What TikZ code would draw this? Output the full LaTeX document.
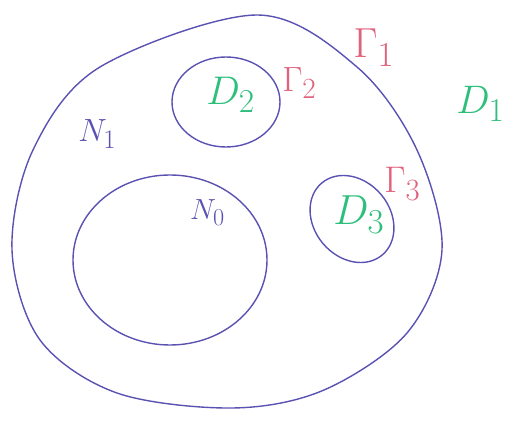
\documentclass[tikz,border=0pt]{standalone}
\usepackage{amsmath,amssymb}
\usepackage{tikz}
\definecolor{PenBlue}{HTML}{5A52B2}
\definecolor{PenGreen}{HTML}{2EBF7C}
\definecolor{PenRed}{HTML}{E0627C}

\begin{document}
\begin{tikzpicture}[
    x=1pt, y=1pt,
    rim/.style={draw=PenBlue, line width=1.4pt},
    lbl/.style={inner sep=0pt, anchor=base west, font=\Huge}
  ]
  \useasboundingbox (0,0) rectangle (517,426);
  % outer boundary
  \draw[rim] plot[smooth cycle, tension=0.55] coordinates {
    (257,411) (357,359) (417,276) (442,176) (407,93) (324,36)
    (233,18) (117,33) (40,86) (12,176) (33,276) (100,359)};
  % holes
  \draw[rim] (226,324) ellipse [x radius=54, y radius=45];
  \draw[rim] (170,166) ellipse [x radius=97, y radius=85];
  \draw[rim, rotate around={-50:(352,207)}] (352,207) ellipse [x radius=47, y radius=38];
  % labels
  \node[lbl, text=PenRed, scale=1.69] (gam1) at (353,368) {$\Gamma_{1}$};
  \node[lbl, text=PenRed, scale=1.41] (gam2) at (282,334) {$\Gamma_{2}$};
  \node[lbl, text=PenRed, scale=1.49] (gam3) at (384,233) {$\Gamma_{3}$};
  \node[lbl, text=PenGreen, scale=1.6] (dom1) at (456,312) {$D_{1}$};
  \node[lbl, text=PenGreen, scale=1.61] (dom2) at (206,321) {$D_{2}$};
  \node[lbl, text=PenGreen, scale=1.69] (dom3) at (333,201) {$D_{3}$};
  \node[lbl, text=PenBlue, scale=1.29] (nb1) at (78,284) {$N_{1}$};
  \node[lbl, text=PenBlue, scale=1.17] (nb0) at (190,206) {$N_{0}$};
\end{tikzpicture}
\end{document}
